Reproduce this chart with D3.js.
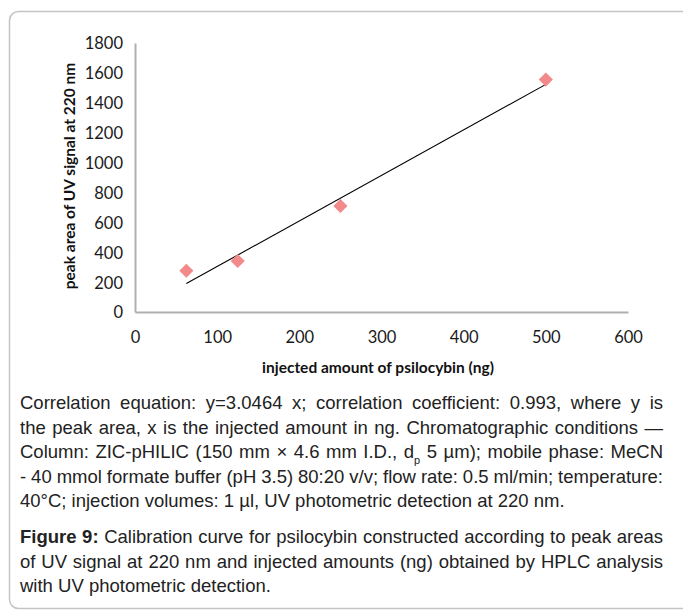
<!DOCTYPE html>
<html>
<head>
<meta charset="utf-8">
<script src="https://cdn.jsdelivr.net/npm/d3@7"></script>
<style>
  html, body { margin: 0; padding: 0; background: #fff; }
  svg { display: block; }
</style>
</head>
<body>
<script>
'use strict';

var width = 683, height = 610;

// calibration data
var amounts = [62.5, 125, 250, 500];       // injected amount (ng)
var areas = [276, 341, 709, 1555];         // peak area
var slope = 3.0464;                        // y = 3.0464 x
var xTicks = [0, 100, 200, 300, 400, 500, 600];
var yTicks = [0, 200, 400, 600, 800, 1000, 1200, 1400, 1600, 1800];

var captionLines = [
  ["Correlation equation: y=3.0464 x; correlation coefficient: 0.993, where y is", true],
  ["the peak area, x is the injected amount in ng. Chromatographic conditions \u2014", true],
  ["Column: ZIC-pHILIC (150 mm \u00d7 4.6 mm I.D., d|p| 5 \u00b5m); mobile phase: MeCN", true],
  ["- 40 mmol formate buffer (pH 3.5) 80:20 v/v; flow rate: 0.5 ml/min; temperature:", true],
  ["40\u00b0C; injection volumes: 1 \u00b5l, UV photometric detection at 220 nm.", false]
];
var figureLines = [
  ["Calibration curve for psilocybin constructed according to peak areas", true],
  ["of UV signal at 220 nm and injected amounts (ng) obtained by HPLC analysis", true],
  ["with UV photometric detection.", false]
];

var svg = d3.select("body").append("svg")
  .attr("width", width)
  .attr("height", height);

// frame (runs off the right edge like the scan)
svg.append("rect")
  .attr("x", 9.5).attr("y", 11.5)
  .attr("width", 690).attr("height", 597)
  .attr("rx", 9)
  .attr("fill", "none")
  .attr("stroke", "#c4c4c4")
  .attr("stroke-width", 1.5);

var x = d3.scaleLinear().domain([0, 600]).range([135, 628]);
var y = d3.scaleLinear().domain([0, 1800]).range([312, 43]);

var tickFont = "Lato, 'Open Sans', sans-serif";

// axes (no tick marks, grey lines)
var xAxis = svg.append("g")
  .attr("transform", "translate(0," + y(0) + ")")
  .call(d3.axisBottom(x).tickValues(xTicks).tickSize(0).tickPadding(20).tickFormat(d3.format("d")));
var yAxis = svg.append("g")
  .attr("transform", "translate(" + x(0) + ",0)")
  .call(d3.axisLeft(y).tickValues(yTicks).tickSize(0).tickPadding(12).tickFormat(d3.format("d")));

[xAxis, yAxis].forEach(function(ax) {
  ax.select(".domain").attr("stroke", "#b0b0b0").attr("stroke-width", 2);
  ax.selectAll("text")
    .attr("fill", "#1a1a1a")
    .style("font-family", tickFont)
    .style("font-size", "16.5px");
});
xAxis.selectAll("text").attr("dy", "0.66em");
yAxis.selectAll("text").attr("dy", "0.36em");

// axis titles
svg.append("text")
  .attr("x", 378).attr("y", 373)
  .attr("text-anchor", "middle")
  .style("font-family", tickFont)
  .style("font-weight", "bold")
  .style("font-size", "15.5px")
  .attr("fill", "#111")
  .text("injected amount of psilocybin (ng)");

svg.append("text")
  .attr("transform", "translate(75,176) rotate(-90)")
  .attr("text-anchor", "middle")
  .style("font-family", tickFont)
  .style("font-weight", "bold")
  .style("font-size", "15.5px")
  .attr("fill", "#111")
  .text("peak area of UV signal at  220 nm");

// regression line
var x0 = d3.min(amounts), x1 = d3.max(amounts);
svg.append("line")
  .attr("x1", x(x0)).attr("y1", y(slope * x0))
  .attr("x2", x(x1)).attr("y2", y(slope * x1))
  .attr("stroke", "#000")
  .attr("stroke-width", 1.1);

// points
var diamond = d3.symbol().type(d3.symbolSquare).size(100);
svg.selectAll(".pt")
  .data(d3.zip(amounts, areas))
  .enter().append("path")
  .attr("class", "pt")
  .attr("d", diamond)
  .attr("transform", function(d) { return "translate(" + x(d[0]) + "," + y(d[1]) + ") rotate(45)"; })
  .attr("fill", "#f28a8c");

// caption, justified by widening word gaps
var capFont = "'Liberation Sans', Arial, sans-serif";
var left = 20, right = 663, lh = 24.6;

function writeLines(lines, y0, lead) {
  lines.forEach(function(l, i) {
    var t = svg.append("text")
      .attr("x", left)
      .attr("y", y0 + i * lh)
      .attr("fill", "#222")
      .style("font-family", capFont)
      .style("font-size", "18.5px");
    var txt = l[0];
    if (lead && i === 0) {
      t.append("tspan").style("font-weight", "bold").text(lead + " ");
      txt = lead + " " + txt;
    }
    l[0].split("|").forEach(function(p, j) {
      var s = t.append("tspan").text(p);
      if (j % 2 === 1) s.attr("baseline-shift", "sub").style("font-size", "11px");
    });
    if (l[1]) {
      var gaps = (txt.match(/ /g) || []).length;
      var extra = (right - left) - t.node().getComputedTextLength();
      t.style("word-spacing", (extra / gaps) + "px");
    }
  });
}
writeLines(captionLines, 409, null);
writeLines(figureLines, 543, "Figure 9:");
</script>
</body>
</html>
